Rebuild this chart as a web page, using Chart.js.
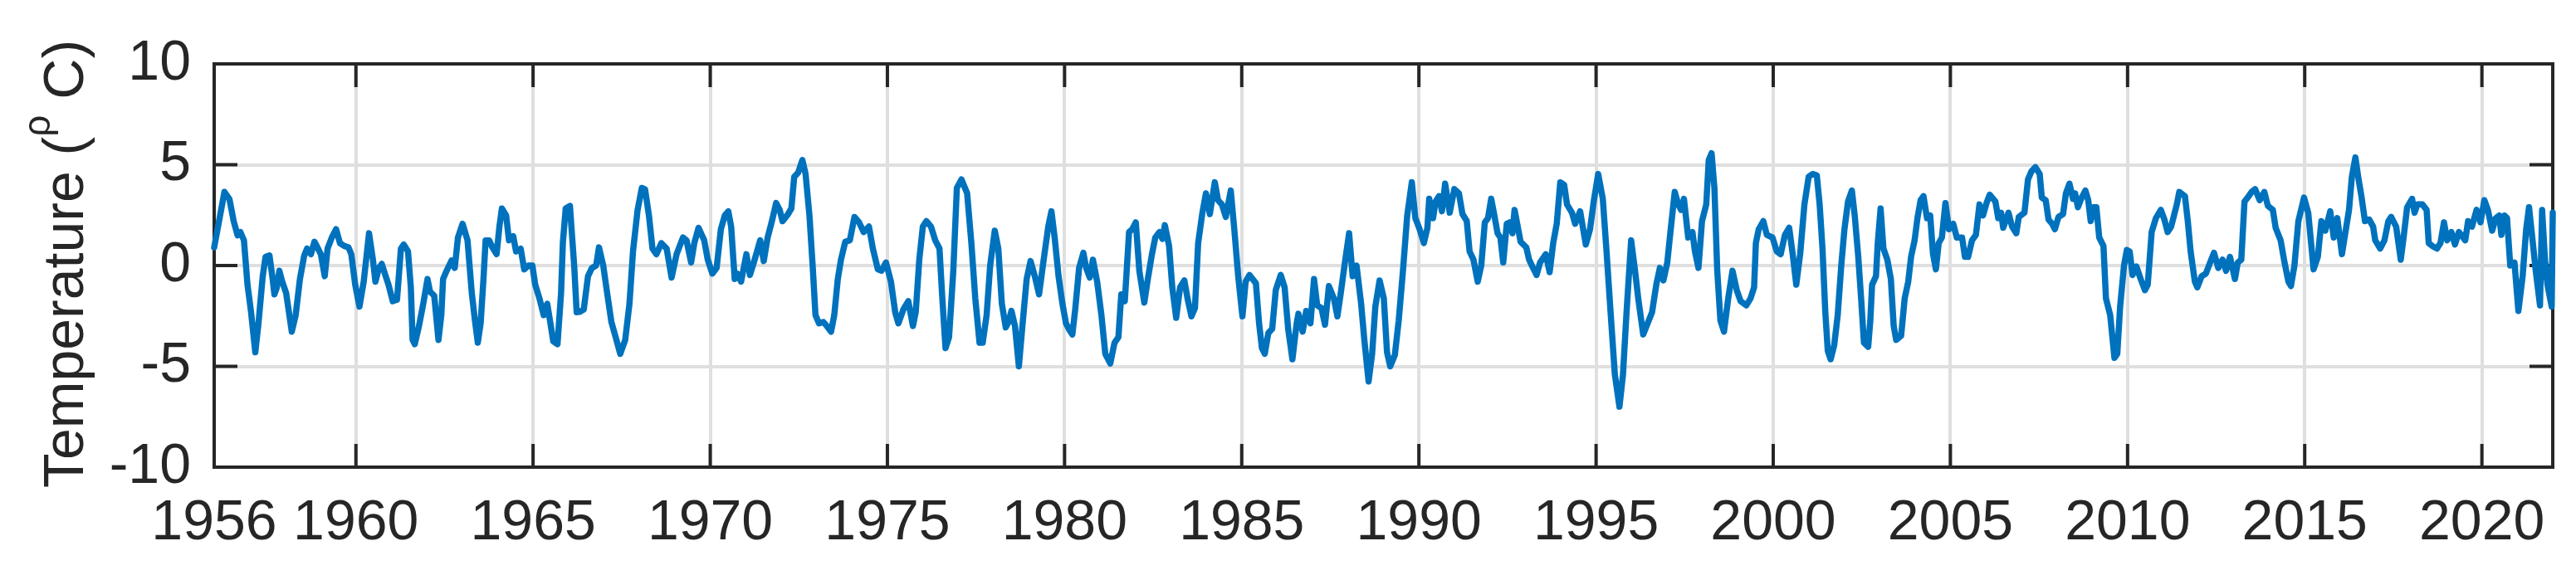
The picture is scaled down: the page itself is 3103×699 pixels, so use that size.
<!DOCTYPE html>
<html><head><meta charset="utf-8">
<script src="https://cdn.jsdelivr.net/npm/chart.js@4.4.1/dist/chart.umd.min.js"></script>
<style>html,body{margin:0;padding:0;background:#fff;}canvas{display:block;}</style>
</head><body>
<canvas id="c" width="3103" height="699" style="width:3103px;height:699px"></canvas>
<script>
const xTickYears = [1956,1960,1965,1970,1975,1980,1985,1990,1995,2000,2005,2010,2015,2020];
const yTickValues = [-10,-5,0,5,10];
const yAxisTitle = ['Temperature (', 'ρ', ' C)'];

const years = [
1956.00,1956.29,1956.43,1956.55,1956.66,1956.74,1956.84,1956.94,1957.04,1957.16,1957.25,1957.37,1957.45,1957.56,1957.64,1957.70,1957.77,1957.84,1957.91,1958.03,
1958.19,1958.30,1958.42,1958.54,1958.62,1958.73,1958.83,1958.93,1959.01,1959.12,1959.20,1959.32,1959.44,1959.55,1959.67,1959.79,1959.87,1959.98,1960.10,1960.22,
1960.37,1960.48,1960.55,1960.65,1960.73,1960.84,1960.92,1961.04,1961.16,1961.27,1961.35,1961.47,1961.55,1961.60,1961.66,1961.78,1961.90,1962.02,1962.09,1962.21,
1962.33,1962.41,1962.46,1962.56,1962.70,1962.79,1962.88,1963.01,1963.15,1963.27,1963.36,1963.44,1963.52,1963.60,1963.66,1963.76,1963.85,1963.97,1964.05,1964.12,
1964.24,1964.32,1964.44,1964.52,1964.65,1964.75,1964.87,1964.98,1965.06,1965.18,1965.30,1965.40,1965.49,1965.57,1965.69,1965.79,1965.84,1965.92,1966.04,1966.16,
1966.23,1966.31,1966.43,1966.55,1966.66,1966.78,1966.86,1966.98,1967.09,1967.21,1967.33,1967.46,1967.60,1967.72,1967.82,1967.95,1968.07,1968.16,1968.27,1968.37,
1968.48,1968.62,1968.77,1968.91,1969.05,1969.23,1969.33,1969.46,1969.55,1969.67,1969.83,1969.93,1970.06,1970.18,1970.30,1970.41,1970.51,1970.59,1970.69,1970.76,
1970.87,1971.02,1971.12,1971.23,1971.41,1971.51,1971.62,1971.74,1971.86,1971.96,1972.04,1972.17,1972.29,1972.37,1972.48,1972.60,1972.69,1972.80,1972.89,1972.97,
1973.07,1973.19,1973.29,1973.41,1973.50,1973.60,1973.69,1973.81,1973.94,1974.07,1974.20,1974.33,1974.48,1974.59,1974.73,1974.83,1974.96,1975.10,1975.22,1975.31,
1975.45,1975.59,1975.72,1975.80,1975.90,1976.00,1976.10,1976.23,1976.35,1976.47,1976.55,1976.64,1976.74,1976.86,1976.96,1977.09,1977.25,1977.37,1977.48,1977.60,
1977.69,1977.80,1977.90,1978.03,1978.13,1978.23,1978.34,1978.42,1978.50,1978.60,1978.71,1978.81,1978.93,1979.04,1979.16,1979.28,1979.40,1979.54,1979.63,1979.72,
1979.83,1979.94,1980.04,1980.14,1980.22,1980.30,1980.41,1980.53,1980.61,1980.71,1980.80,1980.92,1981.04,1981.15,1981.29,1981.41,1981.52,1981.60,1981.70,1981.82,
1981.91,1982.01,1982.11,1982.25,1982.35,1982.46,1982.56,1982.68,1982.76,1982.83,1982.95,1983.04,1983.15,1983.26,1983.38,1983.47,1983.58,1983.68,1983.77,1983.89,
1983.99,1984.10,1984.24,1984.33,1984.44,1984.55,1984.69,1984.79,1984.90,1985.02,1985.11,1985.22,1985.40,1985.49,1985.57,1985.65,1985.75,1985.86,1985.96,1986.10,
1986.21,1986.31,1986.43,1986.55,1986.60,1986.72,1986.82,1986.94,1987.04,1987.13,1987.25,1987.35,1987.46,1987.60,1987.70,1987.79,1987.90,1988.03,1988.13,1988.24,
1988.37,1988.46,1988.58,1988.68,1988.77,1988.89,1989.01,1989.10,1989.19,1989.32,1989.43,1989.55,1989.67,1989.80,1989.90,1990.02,1990.14,1990.24,1990.29,1990.40,
1990.47,1990.57,1990.65,1990.74,1990.87,1991.00,1991.13,1991.23,1991.35,1991.43,1991.54,1991.66,1991.76,1991.86,1991.95,1992.04,1992.13,1992.22,1992.30,1992.38,
1992.48,1992.56,1992.64,1992.70,1992.79,1992.87,1993.03,1993.11,1993.22,1993.32,1993.42,1993.58,1993.69,1993.79,1993.89,1993.99,1994.10,1994.18,1994.32,1994.41,
1994.55,1994.65,1994.71,1994.83,1994.94,1995.06,1995.19,1995.29,1995.41,1995.53,1995.66,1995.76,1995.86,1995.99,1996.10,1996.19,1996.33,1996.47,1996.58,1996.70,
1996.80,1996.90,1997.01,1997.09,1997.22,1997.32,1997.40,1997.48,1997.60,1997.72,1997.79,1997.89,1997.99,1998.11,1998.18,1998.26,1998.34,1998.42,1998.51,1998.61,
1998.73,1998.85,1998.97,1999.08,1999.24,1999.36,1999.46,1999.51,1999.59,1999.72,1999.82,1999.98,2000.10,2000.21,2000.33,2000.45,2000.55,2000.65,2000.76,2000.88,
2001.00,2001.11,2001.23,2001.31,2001.39,2001.47,2001.54,2001.62,2001.72,2001.82,2001.92,2002.01,2002.11,2002.22,2002.30,2002.40,2002.48,2002.56,2002.68,2002.74,
2002.79,2002.90,2002.95,2003.03,2003.11,2003.22,2003.32,2003.40,2003.47,2003.61,2003.71,2003.81,2003.89,2003.99,2004.07,2004.16,2004.24,2004.34,2004.43,2004.51,
2004.59,2004.67,2004.76,2004.86,2004.96,2005.08,2005.18,2005.33,2005.41,2005.50,2005.61,2005.72,2005.82,2005.92,2006.02,2006.11,2006.27,2006.35,2006.43,2006.49,
2006.64,2006.74,2006.86,2006.93,2007.09,2007.19,2007.29,2007.40,2007.52,2007.58,2007.69,2007.77,2007.87,2007.95,2008.05,2008.18,2008.26,2008.36,2008.46,2008.52,
2008.60,2008.69,2008.81,2008.89,2008.96,2009.04,2009.12,2009.20,2009.32,2009.39,2009.51,2009.63,2009.71,2009.79,2009.90,2009.98,2010.06,2010.14,2010.25,2010.37,
2010.49,2010.57,2010.68,2010.80,2010.94,2011.04,2011.13,2011.23,2011.31,2011.39,2011.46,2011.62,2011.70,2011.78,2011.90,2011.97,2012.09,2012.21,2012.33,2012.44,
2012.56,2012.68,2012.78,2012.89,2013.03,2013.11,2013.21,2013.30,2013.42,2013.50,2013.60,2013.73,2013.86,2013.96,2014.10,2014.18,2014.32,2014.43,2014.54,2014.61,
2014.71,2014.82,2014.98,2015.10,2015.18,2015.25,2015.37,2015.47,2015.58,2015.72,2015.82,2015.92,2016.05,2016.15,2016.25,2016.33,2016.43,2016.52,2016.60,2016.70,
2016.82,2016.93,2016.99,2017.13,2017.25,2017.36,2017.44,2017.58,2017.71,2017.79,2017.89,2018.03,2018.10,2018.18,2018.32,2018.44,2018.50,2018.60,2018.73,2018.83,
2018.93,2019.02,2019.14,2019.24,2019.35,2019.53,2019.61,2019.72,2019.85,2019.96,2020.07,2020.17,2020.29,2020.39,2020.49,2020.55,2020.64,2020.71,2020.80,2020.92,
2021.03,2021.15,2021.25,2021.33,2021.43,2021.52,2021.64,2021.70,2021.78,2021.85,2021.97,2022.00
];

const temps = [
0.9,3.65,3.3,2.2,1.5,1.66,1.25,-0.95,-2.3,-4.3,-2.87,-0.53,0.43,0.5,-0.53,-1.43,-1.08,-0.26,-0.74,-1.36,
-3.28,-2.46,-0.67,0.49,0.84,0.56,1.18,0.84,0.56,-0.53,0.84,1.39,1.8,1.11,0.97,0.9,0.56,-0.95,-2.04,-0.8,
1.6,0.29,-0.8,-0.12,0.08,-0.53,-0.95,-1.77,-1.7,0.84,1.04,0.7,-1.08,-3.69,-3.9,-3.0,-1.9,-0.67,-1.29,-1.5,
-3.69,-2.46,-0.67,-0.26,0.25,-0.12,1.39,2.07,1.25,-1.36,-2.73,-3.83,-2.87,-0.67,1.25,1.25,0.9,0.56,1.93,2.83,
2.48,1.25,1.45,0.7,0.84,-0.19,0.0,0.0,-0.95,-1.63,-2.46,-1.9,-2.87,-3.76,-3.9,-1.36,1.11,2.83,2.96,0.0,
-2.32,-2.3,-2.18,-0.53,-0.12,0.0,0.9,0.0,-1.36,-2.8,-3.55,-4.38,-3.69,-1.9,0.7,2.76,3.85,3.78,2.48,0.84,
0.56,1.11,0.84,-0.6,0.56,1.39,1.25,0.15,1.11,1.87,1.25,0.29,-0.4,-0.12,1.8,2.48,2.69,1.93,-0.67,-0.4,
-0.8,0.56,-0.47,0.15,1.25,0.22,1.39,2.2,3.1,2.76,2.2,2.48,2.83,4.4,4.6,5.23,4.54,2.48,0.0,-2.46,
-2.87,-2.8,-3.0,-3.28,-2.46,-0.67,0.29,1.18,1.25,2.41,2.14,1.66,1.93,0.84,-0.19,-0.26,0.15,-0.8,-2.32,-2.87,
-2.18,-1.77,-3.0,-2.3,0.3,1.93,2.2,1.93,1.25,0.84,-1.63,-4.1,-3.55,-0.26,3.85,4.27,3.58,1.11,-1.63,-3.83,
-3.83,-2.46,0.0,1.73,0.84,-1.9,-3.07,-2.8,-2.25,-3.0,-5.0,-3.0,-0.67,0.22,-0.53,-1.43,0.15,1.93,2.69,1.39,
-0.53,-1.9,-2.87,-3.21,-3.42,-2.18,-0.12,0.63,-0.12,-0.6,0.29,-0.8,-2.46,-4.38,-4.86,-3.83,-3.55,-1.43,-1.77,1.66,
1.8,2.14,-0.26,-1.84,-0.67,0.5,1.39,1.66,1.32,2.0,0.97,-1.08,-2.59,-1.08,-0.74,-1.63,-2.52,-2.11,1.11,2.62,
3.58,2.55,4.13,3.24,3.03,2.41,3.72,1.8,-0.53,-2.52,-0.8,-0.47,-0.88,-2.87,-4.1,-4.38,-3.35,-3.14,-1.22,-0.47,
-1.08,-3.14,-4.65,-2.87,-2.39,-3.28,-2.25,-2.87,-0.67,-1.98,-2.11,-2.94,-1.02,-1.63,-2.52,-1.43,0.0,1.6,-0.53,0.0,
-1.9,-3.69,-5.75,-4.38,-2.04,-0.74,-1.63,-4.3,-5.0,-4.45,-2.73,-0.26,2.48,4.13,2.35,1.8,1.11,1.87,3.31,2.35,
3.17,3.44,2.69,4.06,2.62,3.79,3.58,2.55,2.21,0.7,0.29,-0.8,0.0,2.14,2.35,3.31,2.48,1.6,1.39,0.15,
2.07,2.14,1.6,2.76,1.93,1.18,0.9,0.29,-0.12,-0.47,0.15,0.56,-0.33,1.11,2.07,4.13,4.0,3.03,2.62,2.07,
2.69,1.66,1.04,1.8,3.24,4.54,3.31,0.84,-2.32,-5.4,-7.0,-5.4,-2.32,1.25,-0.26,-1.63,-3.42,-2.8,-2.32,-0.95,
-0.12,-0.74,0.15,1.52,3.65,3.03,2.76,3.31,1.39,1.66,0.7,-0.12,2.2,3.03,5.23,5.57,3.85,-0.26,-2.73,-3.28,
-1.63,-0.26,-1.22,-1.77,-1.98,-1.63,-1.08,1.11,1.8,2.2,1.52,1.39,0.7,0.56,1.52,1.87,0.56,-0.95,0.56,3.03,
4.4,4.54,4.47,3.03,0.84,-2.32,-4.24,-4.65,-3.96,-2.46,0.0,1.8,3.17,3.72,2.48,0.43,-1.63,-3.83,-4.03,-2.73,
-0.95,-0.53,1.11,2.83,0.84,0.29,-0.67,-3.0,-3.69,-3.48,-1.63,-0.8,0.43,1.25,2.35,3.24,3.44,2.35,2.48,0.56,
-0.19,1.11,1.39,3.1,1.8,2.07,1.39,1.39,0.43,0.43,1.25,1.52,3.03,2.48,3.1,3.51,3.17,2.35,2.62,1.87,
2.62,1.93,1.6,2.41,2.62,4.27,4.68,4.88,4.54,3.37,3.24,2.28,2.07,1.8,2.41,2.55,3.58,4.06,3.31,3.58,
2.89,3.31,3.72,3.24,2.2,2.89,2.89,1.39,0.97,-1.63,-2.46,-4.58,-4.38,-2.04,0.0,0.77,0.7,-0.47,-0.05,-0.67,
-1.22,-0.95,1.66,2.35,2.76,2.28,1.66,1.93,2.48,3.03,3.65,3.44,2.2,0.7,-0.8,-1.08,-0.53,-0.4,0.15,0.63,
-0.12,0.29,-0.26,0.43,-0.67,0.15,0.29,3.17,3.44,3.65,3.79,3.24,3.65,2.96,2.76,1.87,1.25,0.15,-0.8,-1.02,
0.0,2.2,3.37,2.6,1.11,-0.19,0.43,2.2,1.73,2.69,1.39,2.35,0.56,1.66,2.76,4.4,5.36,4.27,3.44,2.2,
2.28,1.93,1.25,0.84,1.25,2.2,2.41,1.93,0.29,1.39,2.89,3.31,2.62,3.03,3.03,2.76,1.11,0.97,0.84,1.11,
2.14,1.25,1.66,1.04,1.66,1.25,2.2,1.93,2.76,2.14,3.24,2.76,1.73,2.35,2.48,1.52,2.48,2.35,0.0,0.15,
-2.25,-0.53,1.8,2.89,1.25,-0.26,-1.98,2.76,0.29,-0.95,-2.04,2.62
];

const textColor = '#262626';
const fontFamily = '"Liberation Sans", Arial, Helvetica, sans-serif';

const matlabAxes = {
  id: 'matlabAxes',
  beforeDraw(chart) {
    const ctx = chart.ctx;
    ctx.save();
    ctx.fillStyle = '#ffffff';
    ctx.fillRect(0, 0, chart.width, chart.height);
    ctx.restore();
  },
  beforeDatasetsDraw(chart) {
    const { ctx, chartArea: a, scales: { x, y } } = chart;
    const tl = 28;
    ctx.save();
    ctx.strokeStyle = textColor;
    ctx.lineWidth = 4;
    ctx.lineCap = 'butt';
    ctx.beginPath();
    for (const t of xTickYears) {
      const px = x.getPixelForValue(t);
      ctx.moveTo(px, a.bottom); ctx.lineTo(px, a.bottom - tl);
      ctx.moveTo(px, a.top); ctx.lineTo(px, a.top + tl);
    }
    for (const v of yTickValues) {
      const py = y.getPixelForValue(v);
      ctx.moveTo(a.left, py); ctx.lineTo(a.left + tl, py);
      ctx.moveTo(a.right, py); ctx.lineTo(a.right - tl, py);
    }
    ctx.stroke();
    ctx.strokeRect(a.left, a.top, a.right - a.left, a.bottom - a.top);
    ctx.restore();
  },
  afterDraw(chart) {
    const ctx = chart.ctx;
    const fs = 68, fsSup = 46;
    const big = fs + 'px ' + fontFamily;
    const small = fsSup + 'px ' + fontFamily;
    ctx.save();
    ctx.fillStyle = textColor;
    ctx.font = big;
    const w1 = ctx.measureText(yAxisTitle[0]).width;
    const w3 = ctx.measureText(yAxisTitle[2]).width;
    ctx.font = small;
    const w2 = ctx.measureText(yAxisTitle[1]).width;
    const total = w1 + w2 + w3;
    ctx.translate(100, 318);
    ctx.rotate(-Math.PI / 2);
    ctx.textAlign = 'left';
    ctx.textBaseline = 'alphabetic';
    const x0 = -total / 2;
    ctx.font = big; ctx.fillText(yAxisTitle[0], x0, 0);
    ctx.font = small; ctx.fillText(yAxisTitle[1], x0 + w1, -40);
    ctx.font = big; ctx.fillText(yAxisTitle[2], x0 + w1 + w2, 0);
    ctx.restore();
  }
};

const points = years.map((yr, i) => ({ x: yr, y: temps[i] }));

new Chart(document.getElementById('c'), {
  type: 'line',
  data: {
    datasets: [{
      data: points,
      borderColor: '#0072BD',
      borderWidth: 7.5,
      pointRadius: 0,
      tension: 0,
      fill: false,
      borderJoinStyle: 'round',
      borderCapStyle: 'round',
      clip: false
    }]
  },
  options: {
    responsive: false,
    animation: false,
    devicePixelRatio: 1,
    layout: { padding: { top: 77, right: 28, left: 0, bottom: 0 } },
    plugins: { legend: { display: false }, tooltip: { enabled: false }, title: { display: false } },
    scales: {
      x: {
        type: 'linear',
        min: 1956, max: 2022,
        afterBuildTicks(scale) { scale.ticks = xTickYears.map(v => ({ value: v })); },
        afterFit(scale) { scale.height = 136; },
        grid: { color: '#dfdfdf', lineWidth: 4, drawTicks: false },
        border: { display: false },
        ticks: {
          color: textColor, padding: 27, maxRotation: 0, autoSkip: false,
          font: { family: fontFamily, size: 68 },
          callback: v => String(v)
        }
      },
      y: {
        type: 'linear',
        min: -10, max: 10,
        afterBuildTicks(scale) { scale.ticks = yTickValues.map(v => ({ value: v })); },
        afterFit(scale) { scale.width = 258; },
        grid: { color: '#dfdfdf', lineWidth: 4, drawTicks: false },
        border: { display: false },
        ticks: {
          color: textColor, padding: 28,
          font: { family: fontFamily, size: 68 },
          callback: v => String(v)
        }
      }
    }
  },
  plugins: [matlabAxes]
});
</script>
</body></html>
